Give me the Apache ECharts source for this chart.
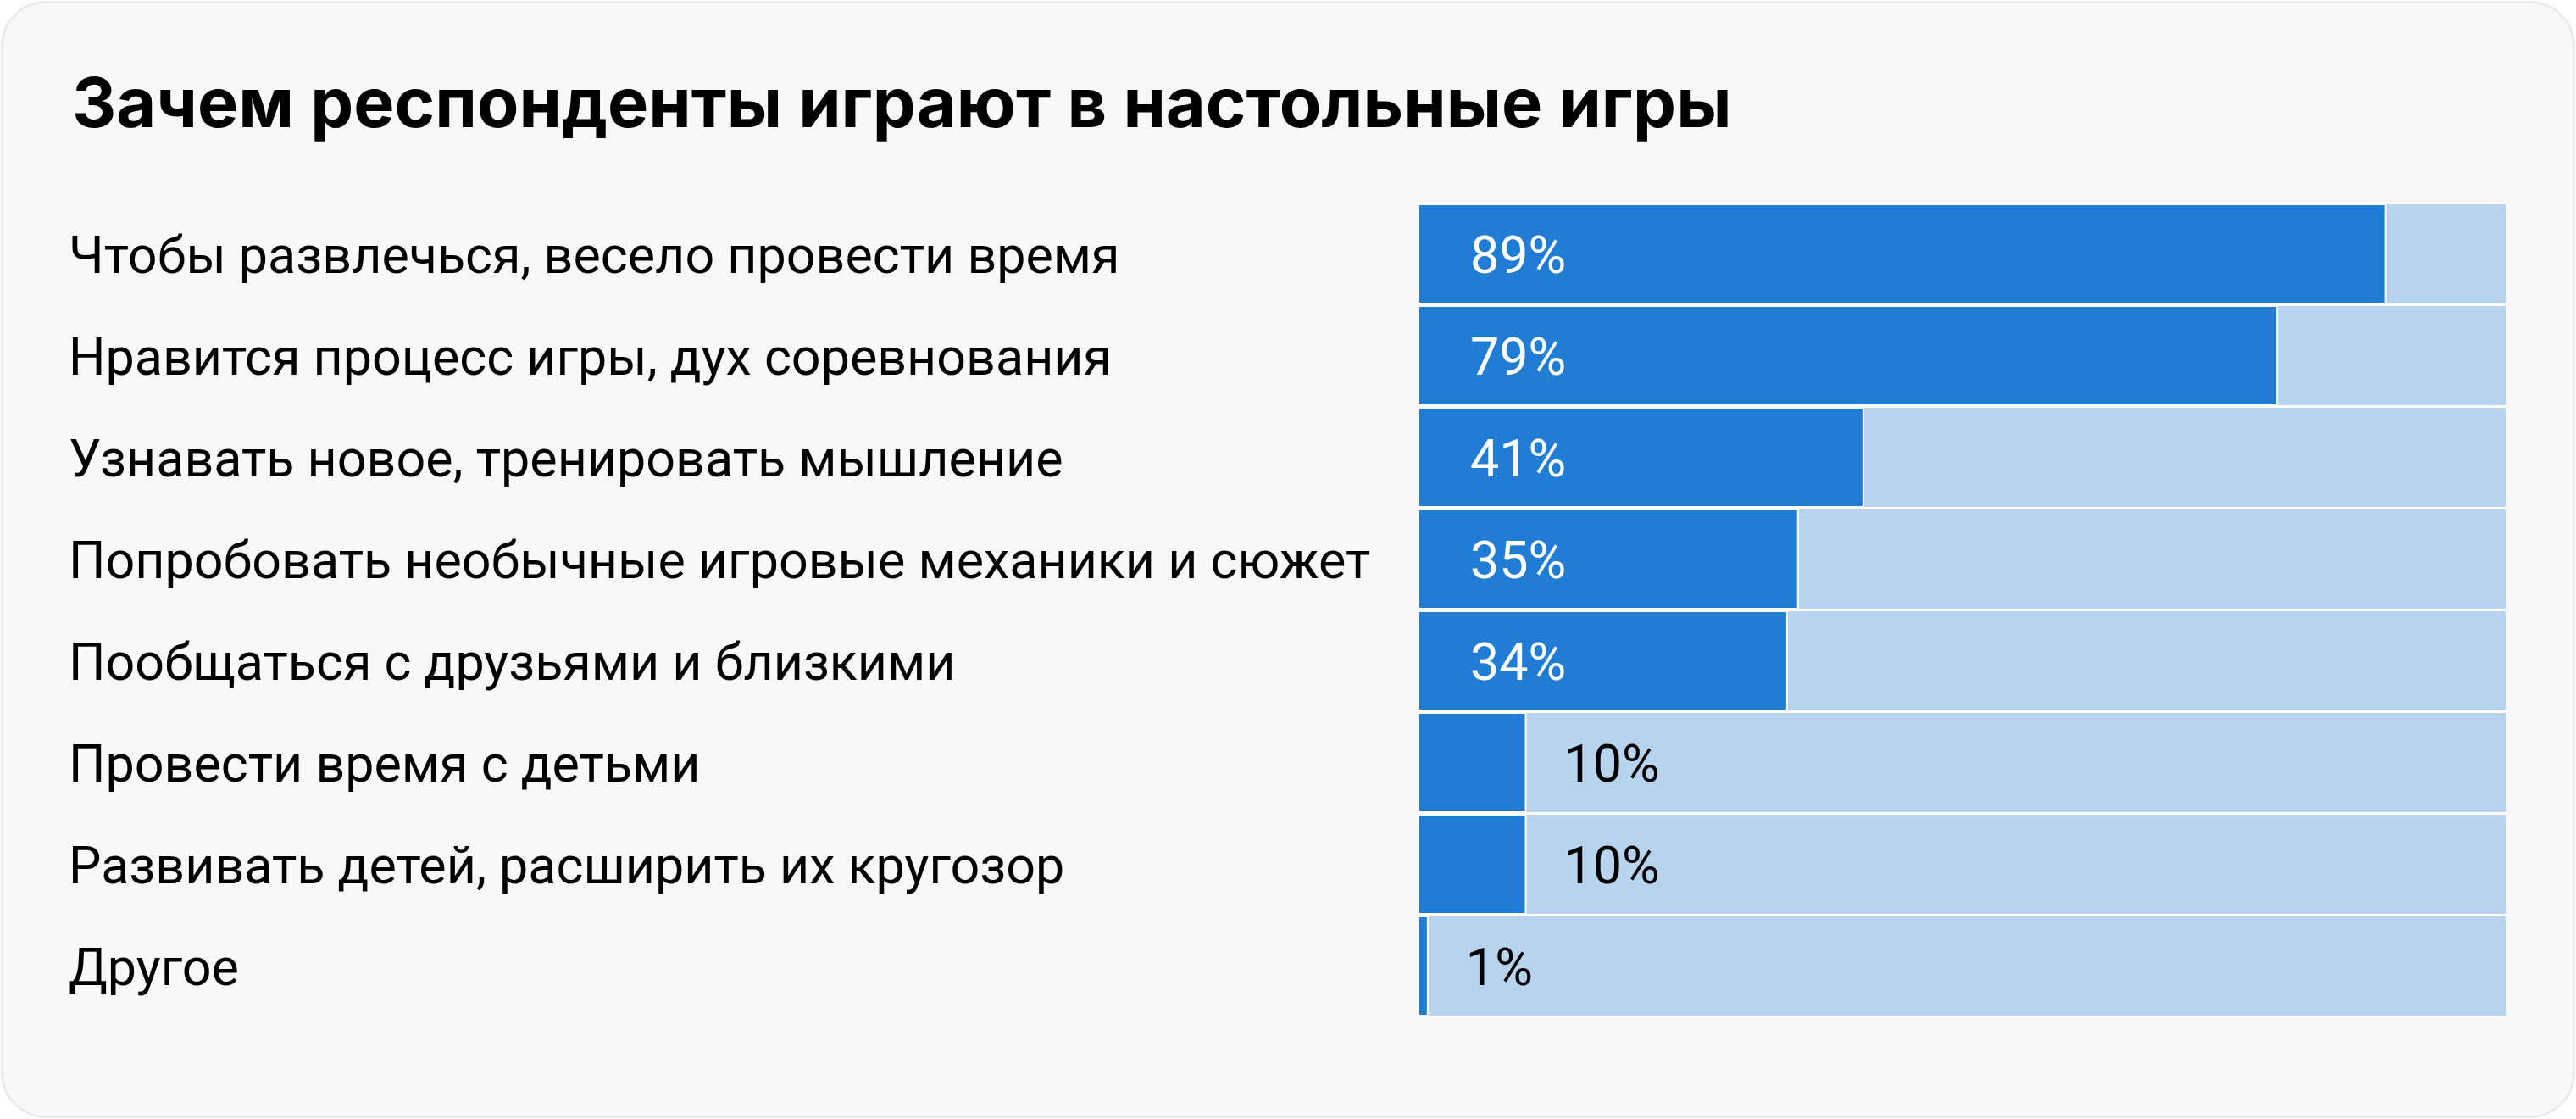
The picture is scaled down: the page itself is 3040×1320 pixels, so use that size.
<!DOCTYPE html>
<html><head><meta charset="utf-8">
<script src="https://cdn.jsdelivr.net/npm/echarts@6/dist/echarts.min.js"></script>
<style>html,body{margin:0;padding:0;background:#fff;}#c{width:3040px;height:1320px;}</style>
</head><body><div id="c"></div>
<script>
const titleText = 'Зачем респонденты играют в настольные игры';
const categories = [
  'Чтобы развлечься, весело провести время',
  'Нравится процесс игры, дух соревнования',
  'Узнавать новое, тренировать мышление',
  'Попробовать необычные игровые механики и сюжет',
  'Пообщаться с друзьями и близкими',
  'Провести время с детьми',
  'Развивать детей, расширить их кругозор',
  'Другое'
];
const values = [89, 79, 41, 35, 34, 10, 10, 1];

const TITLE_FONT = 'Inter';
const FONT = 'Roboto';
const DARK = '#217cd3';
const LIGHT = '#b8d3ee';

const chart = echarts.init(document.getElementById('c'), null, {renderer: 'canvas'});
const data = values.map(v => {
  const inside = v >= 20;
  return {
    value: v,
    label: inside
      ? {position: 'insideLeft', distance: 62, color: '#fff'}
      : {position: 'right', distance: 44, color: '#000'}
  };
});
chart.setOption({
  animation: false,
  graphic: [{
    type: 'rect', z: -10, silent: true,
    shape: {x: 2.5, y: 2.5, width: 3035, height: 1315, r: 52},
    style: {fill: '#f8f8f8', stroke: '#ebebeb', lineWidth: 3}
  }],
  title: {
    text: titleText, left: 80, top: 80,
    textStyle: {fontFamily: TITLE_FONT, fontWeight: 700, fontSize: 81, color: '#000'}
  },
  grid: {left: 1673, right: 82, top: 239.5, height: 960, containLabel: false},
  xAxis: {type: 'value', min: 0, max: 100, show: false},
  yAxis: {
    type: 'category', data: categories, inverse: true,
    axisLine: {show: false}, axisTick: {show: false}, splitLine: {show: false},
    axisLabel: {
      align: 'left', margin: 1592, color: '#000',
      fontFamily: FONT, fontSize: 61, fontWeight: 400,
      verticalAlign: 'top', lineHeight: 14
    }
  },
  series: [{
    type: 'bar', data: data, barWidth: 119,
    itemStyle: {color: DARK, borderColor: '#fff', borderWidth: 2},
    showBackground: true,
    backgroundStyle: {color: LIGHT, borderColor: '#fff', borderWidth: 2},
    label: {
      show: true, formatter: '{c}%', offset: [0, 7],
      fontFamily: FONT, fontSize: 61, fontWeight: 400
    }
  }]
});
</script></body></html>
